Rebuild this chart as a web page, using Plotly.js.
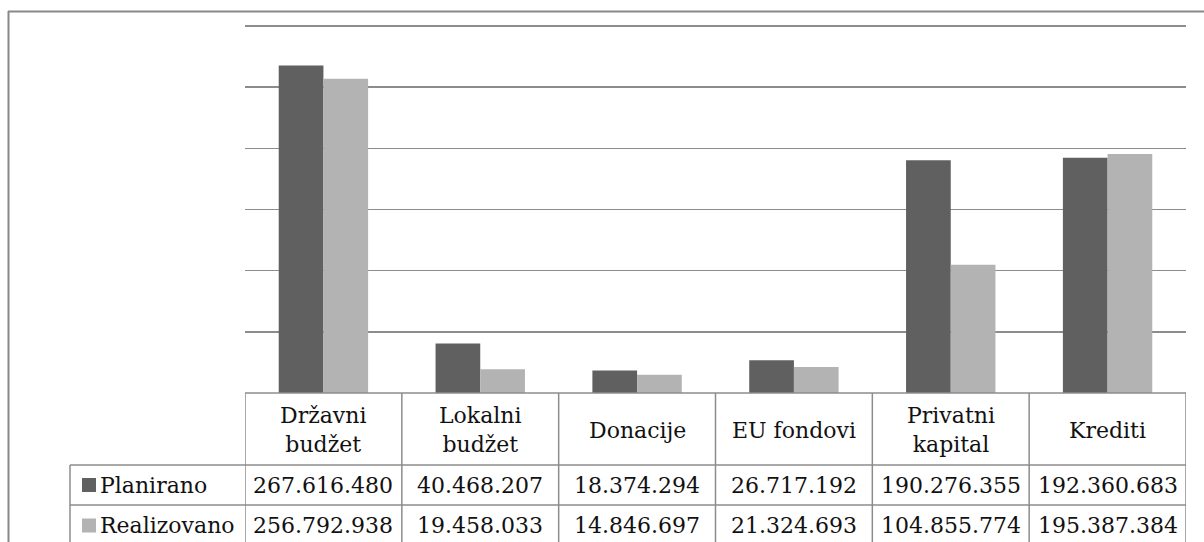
<!DOCTYPE html>
<html>
<head>
<meta charset="utf-8">
<script src="https://cdn.plot.ly/plotly-3.0.1.min.js"></script>
<style>html,body{margin:0;padding:0;background:#fff;}#chart{width:1204px;height:542px;}</style>
</head>
<body>
<div id="chart"></div>
<script>
const categories = ["Državni<br>budžet", "Lokalni<br>budžet", "Donacije", "EU fondovi", "Privatni<br>kapital", "Krediti"];
const seriesNames = ["Planirano", "Realizovano"];
const planirano = [267616480, 40468207, 18374294, 26717192, 190276355, 192360683];
const realizovano = [256792938, 19458033, 14846697, 21324693, 104855774, 195387384];
const colors = ["#606060", "#b3b3b3"];

const W = 1204, H = 542;
const px = x => x / W;
const py = y => 1 - y / H;
const fmt = v => String(v).replace(/\B(?=(\d{3})+(?!\d))/g, ".");

const FONT = {family: "DejaVu Serif", size: 22, color: "#111"};
const LINE = {color: "#8c8c8c", width: 1.5};

const xIdx = categories.map((c, i) => i);
const traces = [planirano, realizovano].map((vals, s) => ({
  type: "bar",
  name: seriesNames[s],
  x: xIdx,
  y: vals,
  marker: {color: colors[s], line: {width: 0}},
  hoverinfo: "skip"
}));

const shapes = [];
const annotations = [];
const tableTop = 393, row1 = 465, row2 = 505, tableBottom = 546, labelLeft = 70;
const n = categories.length;

// outer frame
shapes.push({type: "line", xref: "paper", yref: "paper", x0: px(8), x1: px(1210), y0: py(11.5), y1: py(11.5), line: {color: "#888", width: 2}});
shapes.push({type: "line", xref: "paper", yref: "paper", x0: px(8.5), x1: px(8.5), y0: py(11), y1: py(560), line: {color: "#888", width: 2}});

// table horizontal lines
shapes.push({type: "line", xref: "x", yref: "paper", x0: -0.5, x1: n - 0.5, y0: py(tableTop), y1: py(tableTop), line: LINE});
[row1, row2, tableBottom].forEach(y => {
  shapes.push({type: "line", xref: "paper", yref: "paper", x0: px(labelLeft), x1: px(1186), y0: py(y), y1: py(y), line: LINE});
});
// table vertical lines
for (let i = 0; i <= n; i++) {
  shapes.push({type: "line", xref: "x", yref: "paper", x0: i - 0.5, x1: i - 0.5, y0: py(tableTop), y1: py(tableBottom), line: LINE});
}
shapes.push({type: "line", xref: "paper", yref: "paper", x0: px(labelLeft), x1: px(labelLeft), y0: py(row1), y1: py(tableBottom), line: LINE});

// headers
categories.forEach((c, i) => {
  annotations.push({xref: "x", yref: "paper", x: i, y: py((tableTop + row1) / 2 + 1), text: c, showarrow: false, font: FONT, xanchor: "center", yanchor: "middle", align: "center"});
});
// rows
[planirano, realizovano].forEach((vals, s) => {
  const yc = s === 0 ? (row1 + row2) / 2 : (row2 + tableBottom) / 2;
  shapes.push({type: "rect", xref: "paper", yref: "paper", x0: px(82), x1: px(96), y0: py(yc - 7), y1: py(yc + 7), fillcolor: colors[s], line: {width: 0}});
  annotations.push({xref: "paper", yref: "paper", x: px(98), y: py(yc), text: seriesNames[s], showarrow: false, font: FONT, xanchor: "left", yanchor: "middle"});
  vals.forEach((v, i) => {
    annotations.push({xref: "x", yref: "paper", x: i, y: py(yc), text: fmt(v), showarrow: false, font: FONT, xanchor: "center", yanchor: "middle"});
  });
});

// y axis: 0..305M so the 300M gridline sits inside the plot
const yTopVal = 305000000;
const pxPer = (tableTop - 26) / 300000000;
const domTop = tableTop - yTopVal * pxPer;

const layout = {
  width: W, height: H,
  margin: {l: 0, r: 0, t: 0, b: 0},
  paper_bgcolor: "#fff", plot_bgcolor: "#fff",
  showlegend: false,
  barmode: "group",
  bargap: 0.43,
  bargroupgap: 0,
  xaxis: {domain: [px(245), px(1186)], range: [-0.5, n - 0.5], showticklabels: false, showgrid: false, zeroline: false, showline: false, ticks: "", fixedrange: true},
  yaxis: {domain: [py(tableTop), py(domTop)], range: [0, yTopVal], tick0: 0, dtick: 50000000, showticklabels: false, showgrid: true, gridcolor: "#8c8c8c", gridwidth: 1.5, zeroline: false, showline: false, ticks: "", fixedrange: true},
  shapes: shapes,
  annotations: annotations,
  font: FONT
};

Plotly.newPlot("chart", traces, layout, {displayModeBar: false, staticPlot: true});
</script>
</body>
</html>
